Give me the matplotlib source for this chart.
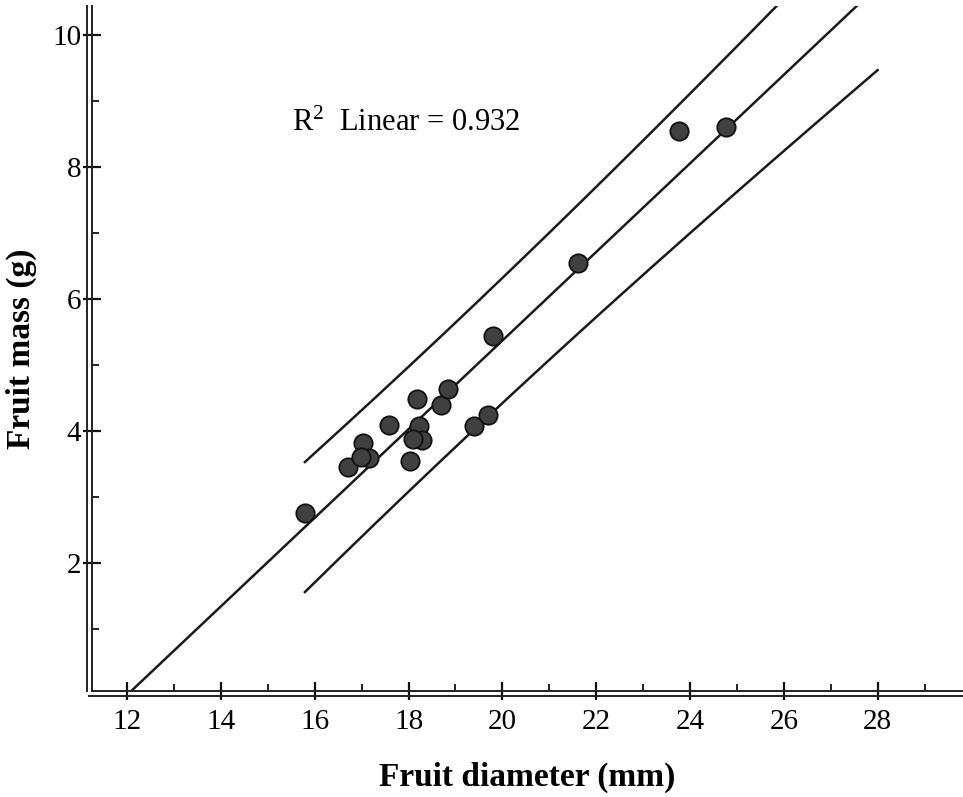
import matplotlib
matplotlib.use("Agg")
import matplotlib.pyplot as plt
import matplotlib.transforms as mtransforms
from matplotlib.ticker import MultipleLocator
import numpy as np

plt.rcParams['font.family'] = ['Liberation Serif', 'DejaVu Serif']
plt.rcParams['mathtext.fontset'] = 'custom'
plt.rcParams['mathtext.rm'] = 'Liberation Serif'
plt.rcParams['mathtext.it'] = 'Liberation Serif:italic'
plt.rcParams['mathtext.default'] = 'rm'

# fruit diameter (mm) and fruit mass (g)
diameter = [15.79, 16.71, 17.02, 17.16, 16.98, 17.58, 18.03, 18.18, 18.23, 18.28,
            18.09, 18.70, 18.84, 19.39, 19.70, 19.80, 21.61, 23.77, 24.77]
mass = [2.76, 3.45, 3.82, 3.59, 3.61, 4.09, 3.54, 4.49, 4.07, 3.86,
        3.88, 4.39, 4.64, 4.08, 4.24, 5.44, 6.55, 8.55, 8.61]
r2_label = "R$^2$  Linear = 0.932"
t_crit = 2.110  # t(0.975, df=17) for the 95% prediction band
band_end = 28

x = np.array(diameter)
y = np.array(mass)
n = len(x)

# linear fit + individual prediction interval
slope, intercept = np.polyfit(x, y, 1)
resid = y - (slope * x + intercept)
s = np.sqrt(np.sum(resid ** 2) / (n - 2))
sxx = np.sum((x - x.mean()) ** 2)

fig = plt.figure(figsize=(9.63, 7.97), dpi=100)
ax = fig.add_axes([0.0955, 0.1324, 0.9045, 0.8601])

line_col = '#1a1a1a'
xf = np.linspace(11, 30, 200)
ax.plot(xf, slope * xf + intercept, color=line_col, lw=1.8, zorder=2)

xb = np.linspace(x.min(), band_end, 200)
hw = t_crit * s * np.sqrt(1 + 1 / n + (xb - x.mean()) ** 2 / sxx)
ax.plot(xb, slope * xb + intercept + hw, color=line_col, lw=1.8, zorder=2)
ax.plot(xb, slope * xb + intercept - hw, color=line_col, lw=1.8, zorder=2)

ax.plot(x, y, 'o', ms=13.2, mfc='#404040', mec='#111111', mew=1.3, zorder=3)

ax.text(15.52, 8.54, r2_label, fontsize=22, ha='left', va='baseline')

ax.set_xlim(11.25, 29.82)
ax.set_ylim(0.05, 10.44)

ax.xaxis.set_major_locator(MultipleLocator(2))
ax.xaxis.set_minor_locator(MultipleLocator(1))
ax.yaxis.set_major_locator(MultipleLocator(2))
ax.yaxis.set_minor_locator(MultipleLocator(1))

for sp in ['top', 'right']:
    ax.spines[sp].set_visible(False)
for sp in ['left', 'bottom']:
    ax.spines[sp].set_linewidth(1.4)
    ax.spines[sp].set_color('#222222')

ax.tick_params(which='major', direction='inout', length=13.5, width=1.6,
               labelsize=21, pad=1, color='#111111')
ax.tick_params(axis='x', which='major', pad=6)
ax.tick_params(which='minor', direction='in', length=5, width=1.3, color='#111111')

# second (outer) axis lines like the original SPSS frame
off_left = mtransforms.offset_copy(ax.transAxes, fig=fig, x=-4.5, y=0, units='dots')
off_bottom = mtransforms.offset_copy(ax.transAxes, fig=fig, x=0, y=-4.5, units='dots')
ax.plot([0, 0], [0.0, 1.0], transform=off_left, color='#222222', lw=1.4, clip_on=False)
ax.plot([-0.003, 1.0], [0, 0], transform=off_bottom, color='#222222', lw=1.4, clip_on=False)

ax.set_xlabel("Fruit diameter (mm)", fontsize=24, fontweight='bold')
ax.set_ylabel("Fruit mass (g)", fontsize=24, fontweight='bold')
ax.xaxis.set_label_coords(0.5, -0.102)
ax.yaxis.set_label_coords(-0.063, 0.5)

fig.savefig("out.png", dpi=100)
